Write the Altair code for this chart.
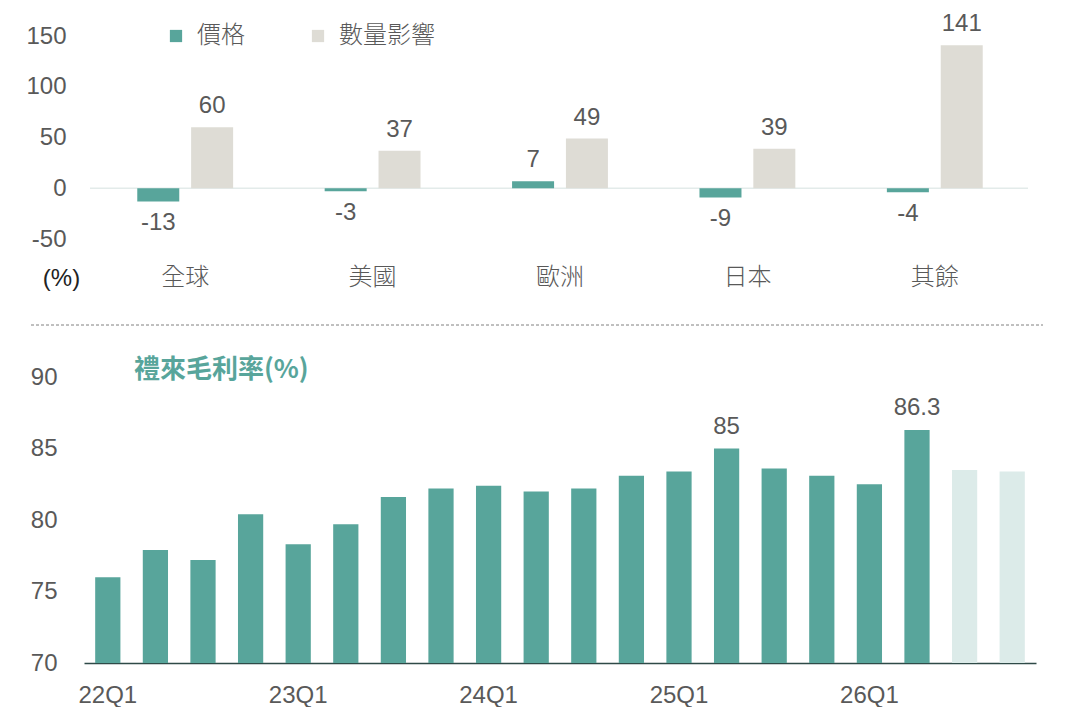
import pandas as pd
import altair as alt

# top panel: revenue growth split by region (%)
regions = ['全球', '美國', '歐洲', '日本', '其餘']
series_names = ['價格', '數量影響']
price = [-13, -3, 7, -9, -4]
volume = [60, 37, 49, 39, 141]

# bottom panel: quarterly gross margin (%)
quarters = ['22Q1', '22Q2', '22Q3', '22Q4', '23Q1', '23Q2', '23Q3', '23Q4',
            '24Q1', '24Q2', '24Q3', '24Q4', '25Q1', '25Q2', '25Q3', '25Q4',
            '26Q1', '26Q2', '26Q3', '26Q4']
margin = [76.0, 77.9, 77.2, 80.4, 78.3, 79.7, 81.6, 82.2, 82.4, 82.0,
          82.2, 83.1, 83.4, 85.0, 83.6, 83.1, 82.5, 86.3, 83.5, 83.4]
phase = ['實際'] * 18 + ['預估'] * 2
bar_labels = ['', '', '', '', '', '', '', '', '', '',
              '', '', '', '85', '', '', '', '86.3', '', '']
quarter_ticks = ['22Q1', '23Q1', '24Q1', '25Q1', '26Q1']

TEAL = '#58A59B'
SAND = '#DEDCD5'
PALE = '#DCEBE9'
GREY = '#595959'
FONT = 'Liberation Sans, Noto Sans CJK TC'
W = 952

values = price + volume
split = pd.DataFrame({
    'region': regions * 2,
    'series': [series_names[0]] * 5 + [series_names[1]] * 5,
    'value': values,
    'label': [str(v) for v in values],
})
one = pd.DataFrame({'k': [0]})

x_top = alt.X('region:N', sort=regions, title=None,
              scale=alt.Scale(paddingInner=0, paddingOuter=0.04),
              axis=alt.Axis(labelFontSize=24, labelColor=GREY, labelPadding=26,
                            labelAngle=0, domain=False, ticks=False, labelFont=FONT,
                            labelFontWeight=300))
off_top = alt.XOffset('series:N', sort=series_names,
                      scale=alt.Scale(paddingInner=0.22, paddingOuter=0.85))
y_top = alt.Y('value:Q', scale=alt.Scale(domain=[-50, 150], nice=False),
              axis=alt.Axis(values=[-50, 0, 50, 100, 150], grid=False, domain=False,
                            ticks=False, labelFontSize=24, labelColor=GREY, labelPadding=18,
                            labelExpr="replace(datum.label, '−', '-')",
                            title='(%)', titleAngle=0, titleX=-23, titleY=242,
                            titleFontSize=24, titleFontWeight='normal', titleColor='#222222',
                            titleAlign='center', titleBaseline='middle', titleFont=FONT))

zero_rule = alt.Chart(one).mark_rule(color='#E3EBEA', strokeWidth=1.5).encode(
    y=alt.datum(0), x=alt.value(6), x2=alt.value(944))

top_bars = alt.Chart(split).mark_bar().encode(
    x=x_top, xOffset=off_top, y=y_top,
    color=alt.Color('series:N', sort=series_names,
                    scale=alt.Scale(domain=series_names, range=[TEAL, SAND]),
                    legend=alt.Legend(orient='none', legendX=80, legendY=-12,
                                      direction='horizontal', title=None,
                                      symbolType='square', symbolSize=150,
                                      symbolStrokeWidth=0, labelFontSize=24,
                                      labelColor=GREY, labelFont=FONT, labelFontWeight=300,
                                      columnPadding=61, labelOffset=9, padding=0)))

pos_text = alt.Chart(split).mark_text(dy=-21, fontSize=24, color=GREY, font=FONT).encode(
    x=x_top, xOffset=off_top, y=y_top, text='label:N').transform_filter('datum.value >= 0')
neg_text = alt.Chart(split).mark_text(dy=22, fontSize=24, color=GREY, font=FONT).encode(
    x=x_top, xOffset=off_top, y=y_top, text='label:N').transform_filter('datum.value < 0')

top = alt.layer(zero_rule, top_bars, pos_text, neg_text).properties(width=W, height=203)

gm = pd.DataFrame({'quarter': quarters, 'margin': margin, 'phase': phase, 'label': bar_labels})

x_bot = alt.X('quarter:N', sort=quarters, title=None,
              scale=alt.Scale(paddingInner=0.47, paddingOuter=0.235),
              axis=alt.Axis(values=quarter_ticks, labelFontSize=24, labelColor=GREY,
                            labelPadding=20, labelAngle=0, domainColor='#2F4A47',
                            domainWidth=1.5, ticks=False, labelFont=FONT))
y_bot = alt.Y('margin:Q', scale=alt.Scale(domain=[70, 90], nice=False, zero=False),
              axis=alt.Axis(values=[70, 75, 80, 85, 90], grid=False, domain=False,
                            ticks=False, labelFontSize=24, labelColor=GREY,
                            labelPadding=27, title=None, labelFont=FONT))

dash = alt.Chart(one).mark_rule(strokeDash=[3, 2], color='#808080', strokeWidth=1).encode(
    x=alt.value(-53), x2=alt.value(959), y=alt.value(-52))

heading = alt.Chart(pd.DataFrame({'t': ['禮來毛利率(%)']})).mark_text(
    align='left', baseline='middle', fontSize=26, fontWeight='bold', color=TEAL,
    font='Noto Sans CJK TC').encode(x=alt.value(50), y=alt.value(-7), text='t:N')

bot_bars = alt.Chart(gm).mark_bar().encode(
    x=x_bot, y=y_bot, y2=alt.datum(70),
    color=alt.Color('phase:N', scale=alt.Scale(domain=['實際', '預估'], range=[TEAL, PALE]),
                    legend=None))

bot_text = alt.Chart(gm).mark_text(dy=-22, fontSize=24, color=GREY, font=FONT).encode(
    x=x_bot, y=y_bot, text='label:N').transform_filter("datum.label != ''")

bottom = alt.layer(dash, heading, bot_bars, bot_text).properties(width=W, height=286)

chart = alt.vconcat(top, bottom, spacing=34).resolve_scale(color='independent').properties(
    padding={'left': 17, 'top': 4, 'right': 0, 'bottom': 0}
).configure(font=FONT).configure_view(stroke=None, strokeWidth=0)

chart.save("out.html", embed_options={"renderer": "svg", "actions": False})
